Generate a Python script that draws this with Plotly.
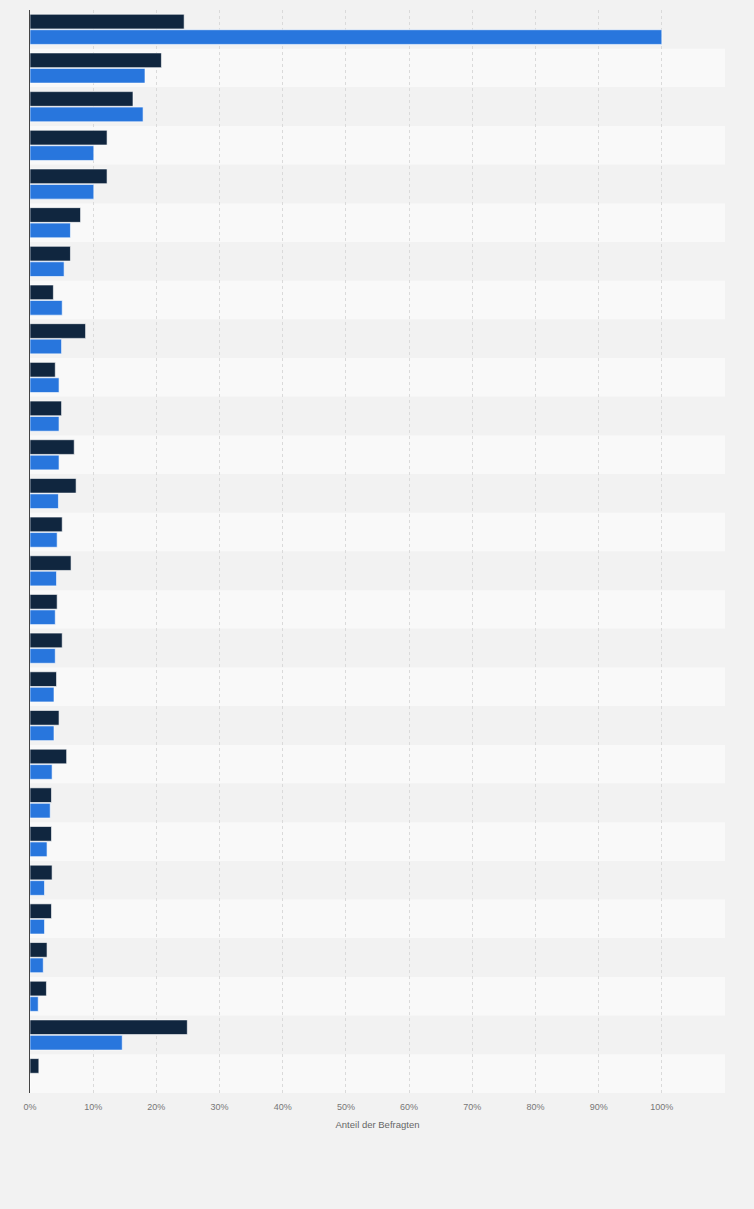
import plotly.graph_objects as go

categories = [f"Kategorie {i}" for i in range(1, 29)]
series_dark = [24.4, 20.8, 16.3, 12.2, 12.2, 8.0, 6.4, 3.7, 8.8, 4.0,
               5.0, 7.0, 7.3, 5.1, 6.5, 4.3, 5.1, 4.2, 4.6, 5.8,
               3.4, 3.4, 3.5, 3.4, 2.7, 2.6, 24.9, 1.4]
series_blue = [100.0, 18.2, 17.9, 10.1, 10.1, 6.4, 5.4, 5.1, 5.0, 4.6,
               4.6, 4.6, 4.5, 4.3, 4.2, 4.0, 4.0, 3.8, 3.8, 3.5,
               3.2, 2.7, 2.3, 2.3, 2.1, 1.3, 14.6, 0.0]
tick_values = [0, 10, 20, 30, 40, 50, 60, 70, 80, 90, 100, 110]
tick_labels = ["0%", "10%", "20%", "30%", "40%", "50%", "60%", "70%", "80%", "90%", "100%", ""]

fig = go.Figure()
fig.add_trace(go.Bar(
    y=categories, x=series_dark, orientation="h", name="Serie 1",
    marker=dict(color="#10263f", line=dict(color="rgba(255,255,255,0.6)", width=1)),
))
fig.add_trace(go.Bar(
    y=categories, x=series_blue, orientation="h", name="Serie 2",
    marker=dict(color="#2876dd", line=dict(color="rgba(255,255,255,0.6)", width=1)),
))

shapes = []
for i in range(len(categories)):
    shapes.append(dict(
        type="rect", xref="paper", yref="y", x0=0, x1=1,
        y0=i - 0.5, y1=i + 0.5, layer="below", line=dict(width=0),
        fillcolor="#f2f2f2" if i % 2 == 0 else "#f9f9f9",
    ))

fig.update_layout(
    width=754, height=1209,
    margin=dict(l=30, r=29, t=10, b=116),
    paper_bgcolor="#f2f2f2", plot_bgcolor="#f2f2f2",
    barmode="group", bargap=0.2, bargroupgap=0.05,
    showlegend=False, shapes=shapes,
    font=dict(family="Liberation Sans, Arial, sans-serif", color="#666666"),
    xaxis=dict(
        range=[0, 110], tickvals=tick_values, ticktext=tick_labels,
        showgrid=True, gridcolor="#dadada", griddash="dot", gridwidth=1,
        zeroline=False, ticks="outside", ticklen=5, tickcolor="rgba(0,0,0,0)",
        tickfont=dict(size=9, color="#777777"),
        title=dict(text="Anteil der Befragten", font=dict(size=9.5, color="#666666"), standoff=10),
        fixedrange=True,
    ),
    yaxis=dict(
        autorange="reversed", showticklabels=False, showgrid=False,
        showline=True, linecolor="#444444", linewidth=1, ticks="",
        fixedrange=True,
    ),
)

fig.write_html(
    "out.html",
    config={"displayModeBar": False},
    post_script="document.body.style.margin='0';document.body.style.padding='0';document.body.style.overflow='hidden';",
)
